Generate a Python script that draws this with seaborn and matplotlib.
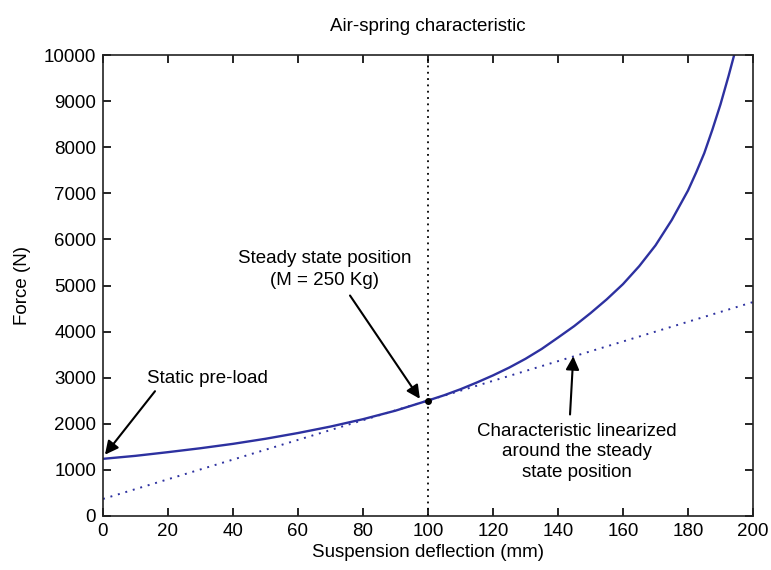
import matplotlib
matplotlib.use("Agg")
import matplotlib.pyplot as plt
import seaborn as sns
import pandas as pd

# Data
deflection = [0, 10, 20, 30, 40, 50, 60, 70, 80, 90, 100, 105, 110, 115, 120,
              125, 130, 135, 140, 145, 150, 155, 160, 165, 170, 175, 180,
              182.5, 185, 187.5, 190, 192.5, 195]
force = [1240, 1305, 1385, 1470, 1565, 1675, 1800, 1940, 2100, 2285, 2505,
         2620, 2750, 2895, 3050, 3220, 3410, 3625, 3870, 4120, 4400, 4700,
         5030, 5420, 5870, 6420, 7060, 7450, 7870, 8380, 8930, 9550, 10210]
lin_deflection = [0, 200]
lin_force = [370, 4640]
steady_x = [100]
steady_y = [2505]
x_ticks = list(range(0, 201, 20))
y_ticks = list(range(0, 10001, 1000))

sns.set_style("ticks")
plt.rcParams["font.family"] = ["Liberation Sans", "DejaVu Sans"]
plt.rcParams["text.color"] = "black"
plt.rcParams["axes.labelcolor"] = "black"

fig = plt.figure(figsize=(7.71, 5.70), dpi=100)
ax = fig.add_axes([103 / 771, 1 - 516 / 570, 650 / 771, 461 / 570])

blue = "#2D31A0"
df_curve = pd.DataFrame({"x": deflection, "y": force})
df_lin = pd.DataFrame({"x": lin_deflection, "y": lin_force})

sns.lineplot(data=df_lin, x="x", y="y", ax=ax, color=blue, lw=1.4,
             linestyle=(0, (1, 3)))
sns.lineplot(data=df_curve, x="x", y="y", ax=ax, color=blue, lw=1.7)
ax.axvline(100, color="black", lw=1.3, linestyle=(0, (1, 2.5)))
ax.plot(steady_x, steady_y, "o", color="black", ms=4)

ax.set_xlim(0, 200)
ax.set_ylim(0, 10000)
ax.set_xticks(x_ticks)
ax.set_yticks(y_ticks)
fs = 13.5
ax.tick_params(direction="in", length=6, width=1.2, top=True, right=True,
               labelsize=fs, colors="black", pad=5)
for s in ax.spines.values():
    s.set_visible(True)
    s.set_linewidth(1.2)
    s.set_color("#222222")

ax.set_xlabel("Suspension deflection (mm)", fontsize=fs, labelpad=3, color="black")
ax.set_ylabel("Force (N)", fontsize=fs, labelpad=9, color="black")
ax.set_title("Air-spring characteristic", fontsize=fs, pad=17, color="black")

arrow = dict(arrowstyle="-|>", color="black", lw=1.5, mutation_scale=20,
             shrinkA=0, shrinkB=0)
ax.annotate("", xy=(0.6, 1330), xytext=(16, 2707), arrowprops=arrow)
ax.text(32, 2980, "Static pre-load", fontsize=fs, ha="center", va="center",
        color="black")

ax.annotate("", xy=(97.5, 2542), xytext=(76, 4783), arrowprops=arrow)
ax.text(68.3, 5350, "Steady state position\n(M = 250 Kg)", fontsize=fs,
        ha="center", va="center", linespacing=1.35, color="black")

ax.annotate("", xy=(144.7, 3466), xytext=(143.7, 2202), arrowprops=arrow)
ax.text(145.7, 1390, "Characteristic linearized\naround the steady\nstate position",
        fontsize=fs, ha="center", va="center", linespacing=1.3, color="black")

fig.savefig("out.png", dpi=100)
